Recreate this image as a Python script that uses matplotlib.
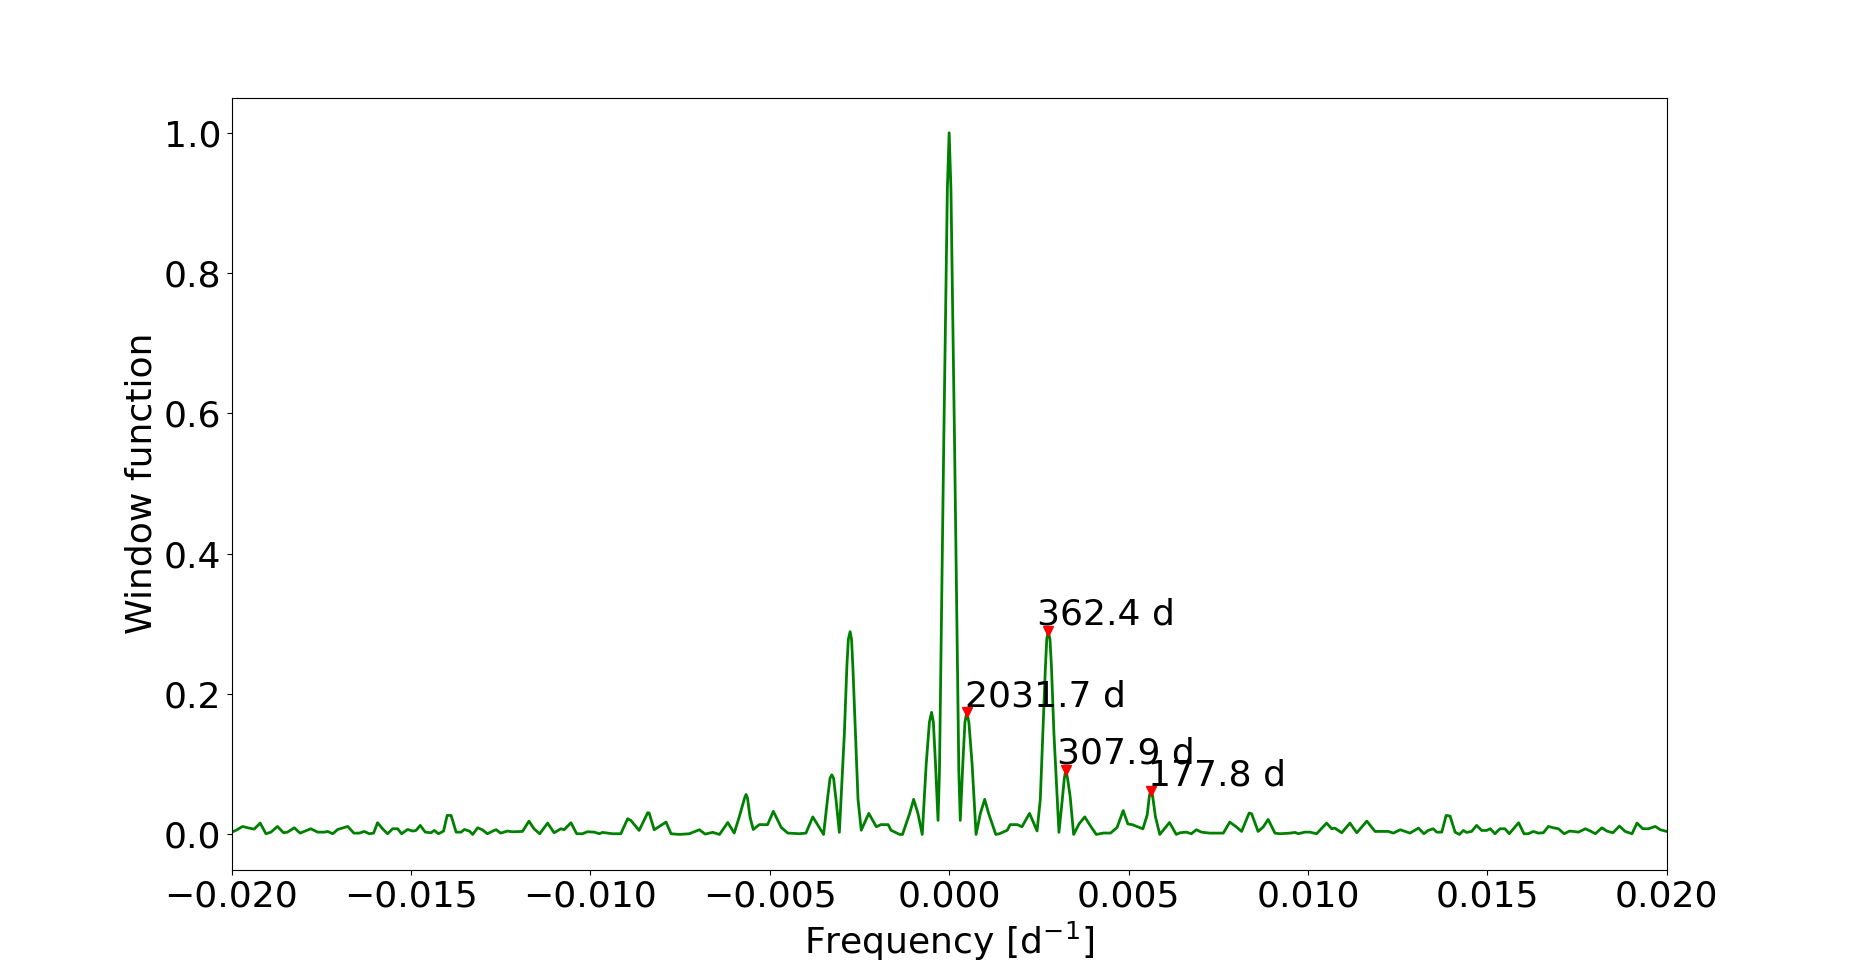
import numpy as np
import matplotlib
matplotlib.use('Agg')
import matplotlib.pyplot as plt

# window function (frequency in 1/d)
freq = [-0.02000, -0.01988, -0.01969, -0.01955, -0.01937, -0.01920, -0.01904, -0.01890, -0.01872, -0.01855,
        -0.01844, -0.01825, -0.01809, -0.01779, -0.01760, -0.01741, -0.01732, -0.01718, -0.01704, -0.01676,
        -0.01659, -0.01644, -0.01630, -0.01616, -0.01604, -0.01593, -0.01579, -0.01565, -0.01551, -0.01537,
        -0.01526, -0.01509, -0.01495, -0.01486, -0.01474, -0.01460, -0.01444, -0.01435, -0.01423, -0.01409,
        -0.01399, -0.01388, -0.01374, -0.01360, -0.01351, -0.01337, -0.01328, -0.01314,
        -0.01301, -0.01287, -0.01268, -0.01262, -0.01250, -0.01231, -0.01217, -0.01189, -0.01171, -0.01157,
        -0.01141, -0.01119, -0.01101, -0.01082, -0.01073, -0.01054, -0.01038, -0.01022, -0.01008, -0.00989,
        -0.00975, -0.00966, -0.00938, -0.00915, -0.00896, -0.00887, -0.00864, -0.00840, -0.00836, -0.00822,
        -0.00808, -0.00789, -0.00775, -0.00752, -0.00724, -0.00715,
        -0.00696, -0.00680, -0.00659, -0.00640, -0.00617, -0.00599, -0.00585, -0.00570, -0.00566, -0.00562,
        -0.00555, -0.00546, -0.00529, -0.00506, -0.00490, -0.00468, -0.00450, -0.00417, -0.00399, -0.00380,
        -0.00350, -0.00338, -0.00332, -0.00327, -0.00322, -0.00315, -0.00306, -0.00292, -0.00285, -0.00281,
        -0.00276, -0.00272, -0.00268, -0.00261, -0.00254, -0.00245, -0.00224, -0.00203, -0.00190, -0.00170,
        -0.00162, -0.00138, -0.00130, -0.00110, -0.00099, -0.00087, -0.00075, -0.00064, -0.00055, -0.00049,
        -0.00044, -0.00038, -0.00031, -0.00027, -0.00015, -0.00005,
        0.00000,
        0.00005, 0.00015, 0.00027, 0.00031, 0.00038, 0.00044, 0.00049, 0.00055, 0.00064, 0.00075,
        0.00087, 0.00099, 0.00110, 0.00130, 0.00140, 0.00162, 0.00170, 0.00190, 0.00203, 0.00224,
        0.00245, 0.00254, 0.00261, 0.00268, 0.00272, 0.00276, 0.00281, 0.00285, 0.00292, 0.00306,
        0.00315, 0.00321, 0.00325, 0.00330, 0.00337, 0.00347, 0.00362, 0.00378, 0.00394, 0.00410,
        0.00430, 0.00450, 0.00468, 0.00485, 0.00498, 0.00510, 0.00540, 0.00552, 0.00558, 0.00562,
        0.00567, 0.00575, 0.00587, 0.00614, 0.00633,
        0.00643, 0.00661, 0.00675, 0.00689, 0.00703, 0.00726, 0.00764, 0.00782, 0.00801, 0.00815,
        0.00836, 0.00843, 0.00861, 0.00875, 0.00889, 0.00908, 0.00922, 0.00950, 0.00964, 0.00973,
        0.00991, 0.01005, 0.01024, 0.01052, 0.01066, 0.01075, 0.01094, 0.01117, 0.01136, 0.01164,
        0.01187, 0.01201, 0.01224, 0.01238, 0.01257, 0.01271, 0.01284, 0.01308,
        0.01323, 0.01335, 0.01349, 0.01359, 0.01373, 0.01385, 0.01396, 0.01410, 0.01422, 0.01433,
        0.01442, 0.01456, 0.01470, 0.01484, 0.01498, 0.01508, 0.01521, 0.01535, 0.01549, 0.01561,
        0.01587, 0.01602, 0.01614, 0.01628, 0.01642, 0.01656, 0.01670, 0.01684, 0.01698, 0.01714,
        0.01729, 0.01740, 0.01754, 0.01773, 0.01787, 0.01801, 0.01819, 0.01833, 0.01850, 0.01868,
        0.01884, 0.01903, 0.01917, 0.01933, 0.01949, 0.01968, 0.01982, 0.02000]
win = [0.0033, 0.0057, 0.0114, 0.0095, 0.0076, 0.0162, 0.0010, 0.0033, 0.0114, 0.0024,
       0.0033, 0.0095, 0.0019, 0.0081, 0.0033, 0.0033, 0.0043, 0.0010, 0.0071, 0.0114,
       0.0019, 0.0019, 0.0043, 0.0010, 0.0019, 0.0167, 0.0081, 0.0010, 0.0081, 0.0081,
       0.0010, 0.0071, 0.0048, 0.0057, 0.0129, 0.0033, 0.0024, 0.0057, 0.0010, 0.0048,
       0.0271, 0.0271, 0.0033, 0.0033, 0.0071, 0.0048, 0.0000, 0.0095,
       0.0067, 0.0010, 0.0057, 0.0067, 0.0019, 0.0048, 0.0038, 0.0043, 0.0190, 0.0081,
       0.0010, 0.0162, 0.0024, 0.0081, 0.0067, 0.0167, 0.0010, 0.0010, 0.0038, 0.0033,
       0.0010, 0.0029, 0.0010, 0.0010, 0.0224, 0.0200, 0.0057, 0.0310, 0.0305, 0.0067,
       0.0114, 0.0176, 0.0010, 0.0000, 0.0010, 0.0029,
       0.0067, 0.0005, 0.0030, 0.0000, 0.0170, 0.0020, 0.0250, 0.0520, 0.0570, 0.0520,
       0.0250, 0.0070, 0.0140, 0.0140, 0.0330, 0.0100, 0.0020, 0.0010, 0.0020, 0.0250,
       0.0000, 0.0550, 0.0800, 0.0850, 0.0800, 0.0480, 0.0030, 0.1440, 0.2400, 0.2780,
       0.2890, 0.2780, 0.2350, 0.1440, 0.0500, 0.0060, 0.0300, 0.0110, 0.0140, 0.0140,
       0.0060, 0.0000, 0.0000, 0.0300, 0.0500, 0.0300, 0.0000, 0.1000, 0.1600, 0.1740,
       0.1600, 0.1000, 0.0200, 0.0900, 0.5600, 0.9200,
       1.0000,
       0.9200, 0.5600, 0.0900, 0.0200, 0.1000, 0.1600, 0.1740, 0.1600, 0.1000, 0.0000,
       0.0300, 0.0500, 0.0300, 0.0000, 0.0010, 0.0060, 0.0140, 0.0140, 0.0110, 0.0300,
       0.0050, 0.0500, 0.1440, 0.2350, 0.2780, 0.2900, 0.2780, 0.2400, 0.1440, 0.0030,
       0.0480, 0.0800, 0.0920, 0.0800, 0.0550, 0.0000, 0.0150, 0.0250, 0.0120, 0.0000,
       0.0020, 0.0020, 0.0100, 0.0340, 0.0150, 0.0140, 0.0080, 0.0280, 0.0550, 0.0620,
       0.0550, 0.0250, 0.0000, 0.0170, 0.0000,
       0.0024, 0.0033, 0.0010, 0.0067, 0.0033, 0.0019, 0.0019, 0.0176, 0.0105, 0.0043,
       0.0305, 0.0295, 0.0043, 0.0105, 0.0214, 0.0019, 0.0010, 0.0019, 0.0029, 0.0010,
       0.0033, 0.0033, 0.0010, 0.0162, 0.0081, 0.0090, 0.0024, 0.0162, 0.0024, 0.0190,
       0.0043, 0.0043, 0.0043, 0.0019, 0.0067, 0.0043, 0.0019, 0.0090,
       0.0010, 0.0057, 0.0081, 0.0033, 0.0033, 0.0271, 0.0262, 0.0033, 0.0000, 0.0057,
       0.0029, 0.0043, 0.0129, 0.0057, 0.0057, 0.0081, 0.0010, 0.0081, 0.0081, 0.0010,
       0.0167, 0.0010, 0.0010, 0.0043, 0.0019, 0.0024, 0.0114, 0.0095, 0.0081, 0.0010,
       0.0048, 0.0043, 0.0033, 0.0081, 0.0048, 0.0010, 0.0095, 0.0048, 0.0024, 0.0119,
       0.0043, 0.0010, 0.0162, 0.0081, 0.0081, 0.0114, 0.0067, 0.0043]

# marked peaks
peak_f = [0.000492, 0.002759, 0.003248, 0.005624]
peak_w = [0.174, 0.290, 0.092, 0.062]
# label anchor points
lab_f = [0.000444, 0.00246, 0.00301, 0.005535]
lab_w = [0.182, 0.299, 0.101, 0.070]
lab_txt = ['2031.7 d', '362.4 d', '307.9 d', '177.8 d']

fs = 26
fig = plt.figure(figsize=(18.52, 9.77), dpi=100)
ax = fig.add_subplot(111)
fig.subplots_adjust(left=0.125, right=0.9, top=0.9, bottom=0.11)

ax.plot(freq, win, color='green', linewidth=2.0)
ax.plot(peak_f, peak_w, 'v', color='red', markersize=7, zorder=3)
for f, w, t in zip(lab_f, lab_w, lab_txt):
    ax.text(f, w, t, fontsize=fs)

ax.set_xlim(-0.02, 0.02)
ax.set_ylim(-0.05, 1.05)
ax.set_xticks(np.arange(-0.02, 0.0201, 0.005))
ax.set_yticks(np.arange(0, 1.01, 0.2))
ax.tick_params(labelsize=fs, length=3.9)
ax.set_xlabel(r'Frequency [d$^{-1}$]', fontsize=fs)
ax.set_ylabel('Window function', fontsize=fs)

plt.savefig('out.png', dpi=100)
